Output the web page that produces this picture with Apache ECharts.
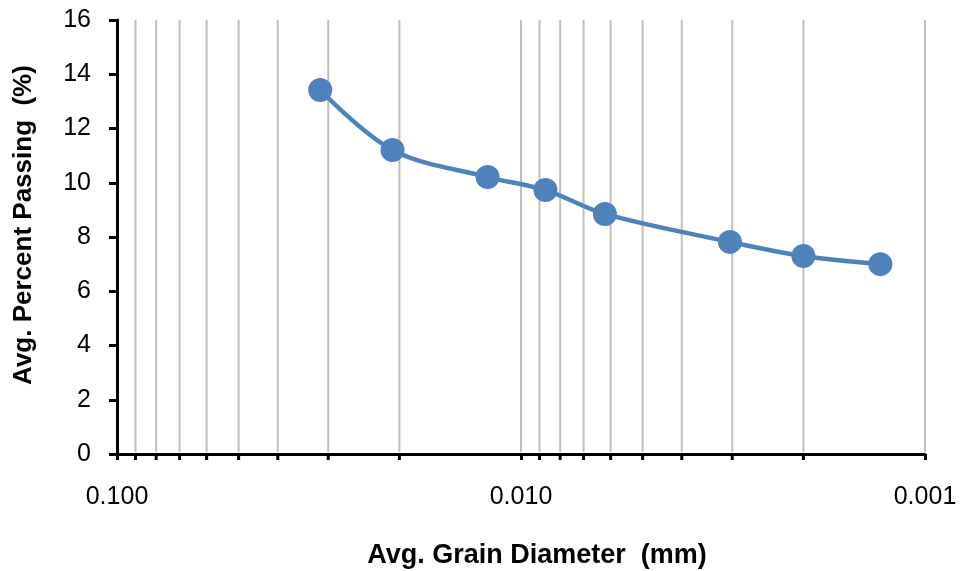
<!DOCTYPE html>
<html>
<head>
<meta charset="utf-8">
<script src="https://cdn.jsdelivr.net/npm/echarts@6/dist/echarts.min.js"></script>
<style>html,body{margin:0;padding:0;background:#fff}#c{width:961px;height:571px}</style>
</head>
<body>
<div id="c"></div>
<script>
// Data
const grainDiameter = [0.0314, 0.0208, 0.0121, 0.0087, 0.0062, 0.00304, 0.00200, 0.00129];
const percentPassing = [13.42, 11.21, 10.21, 9.73, 8.85, 7.82, 7.30, 7.00];
const gridValues = [0.09, 0.08, 0.07, 0.06, 0.05, 0.04, 0.03, 0.02, 0.01,
                    0.009, 0.008, 0.007, 0.006, 0.005, 0.004, 0.003, 0.002, 0.001];
const minorTickValues = [0.09, 0.08, 0.07, 0.06, 0.05, 0.04, 0.03, 0.02,
                    0.009, 0.008, 0.007, 0.006, 0.005, 0.004, 0.003, 0.002];
const xTitle = 'Avg. Grain Diameter  (mm)';
const yTitle = 'Avg. Percent Passing  (%)';

const chart = echarts.init(document.getElementById('c'), null, {renderer: 'canvas'});
const pts = grainDiameter.map((d, i) => [d, percentPassing[i]]);

chart.setOption({
  animation: false,
  backgroundColor: '#fff',
  grid: {left: 117, right: 36, top: 20, bottom: 117, containLabel: false, outerBoundsMode: 'none'},
  xAxis: {
    type: 'log', logBase: 10, min: 0.001, max: 0.1, inverse: true, z: 5,
    name: xTitle, nameLocation: 'middle', nameGap: 88,
    nameTextStyle: {fontFamily: 'Liberation Sans', fontWeight: 'bold', fontSize: 27, color: '#000', padding: [0, 0, 0, 32]},
    axisLine: {lineStyle: {color: '#000', width: 3}},
    axisTick: {show: true, length: 6, lineStyle: {color: '#000', width: 3}},
    axisLabel: {fontFamily: 'Liberation Sans', fontSize: 25, color: '#000', margin: 31,
      formatter: v => Number(v).toFixed(3)},
    splitLine: {show: false}
  },
  yAxis: {
    type: 'value', min: 0, max: 16, interval: 2, z: 5,
    name: yTitle, nameLocation: 'middle', nameGap: 80, nameRotate: 90,
    nameTextStyle: {fontFamily: 'Liberation Sans', fontWeight: 'bold', fontSize: 26, color: '#000', padding: [0, 0, 0, 24]},
    axisLine: {show: true, lineStyle: {color: '#000', width: 3}},
    axisTick: {show: true, length: 8, lineStyle: {color: '#000', width: 3}},
    axisLabel: {fontFamily: 'Liberation Sans', fontSize: 25, color: '#000', margin: 26},
    splitLine: {show: false}
  },
  series: [
    {
      type: 'custom', z: 1, clip: false, silent: true,
      data: gridValues.map(v => [v]),
      renderItem: function (params, api) {
        const v = api.value(0);
        const top = api.coord([v, 16]);
        const bot = api.coord([v, 0]);
        const children = [{
          type: 'line',
          shape: {x1: bot[0], y1: bot[1] - 2, x2: top[0], y2: top[1]},
          style: {stroke: '#bfbfbf', lineWidth: 2}
        }];
        if (minorTickValues.indexOf(v) >= 0) {
          children.push({
            type: 'line', z2: 10,
            shape: {x1: bot[0], y1: bot[1], x2: bot[0], y2: bot[1] + 6},
            style: {stroke: '#000', lineWidth: 3}
          });
        }
        return {type: 'group', children: children};
      }
    },
    {
      type: 'line', z: 3,
      data: pts,
      smooth: 0.35,
      symbol: 'circle', symbolSize: 24,
      lineStyle: {color: '#4f81bd', width: 4.5},
      itemStyle: {color: '#4f81bd'}
    }
  ]
});
</script>
</body>
</html>
